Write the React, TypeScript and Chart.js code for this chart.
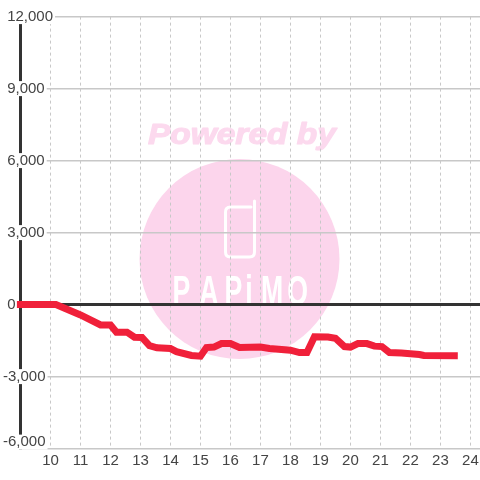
import React, { useEffect, useRef } from "react";
import { Chart, registerables } from "chart.js";

Chart.register(...registerables);

const hours = [8.88, 10.18, 11, 11.67, 12, 12.2, 12.55, 12.8, 13.05, 13.3, 13.55, 14, 14.2, 14.7, 15, 15.2, 15.45, 15.7, 16, 16.3, 17, 17.3, 18, 18.3, 18.55, 18.8, 19.25, 19.5, 19.8, 20, 20.25, 20.55, 20.8, 21.05, 21.3, 21.7, 22.3, 22.45, 23.58];
const values = [0, 0, -430, -850, -850, -1150, -1150, -1360, -1370, -1710, -1800, -1830, -1960, -2120, -2150, -1790, -1770, -1620, -1620, -1790, -1770, -1830, -1900, -2000, -2000, -1340, -1350, -1400, -1750, -1770, -1625, -1625, -1730, -1750, -2000, -2020, -2080, -2120, -2130];
const logoLetters = ["P", "A", "P", "i", "M", "O"];
const logoCenters = [181.5, 209, 233.5, 249, 272, 297.5];
const watermarkTitle = "Powered by";

const PINK = "#fcd5ec";

const watermark = {
  id: "watermark",
  beforeDraw(chart: any) {
    // the lowest tick label sits just above its gridline
    const items = chart.scales.y.getLabelItems();
    const last = items.find((it: any) => it.label === "-6,000");
    if (last && !last.shifted) {
      last.options.translation[1] -= 6.5;
      last.shifted = true;
    }
    const ctx = chart.ctx;
    ctx.save();
    ctx.fillStyle = "#ffffff";
    ctx.fillRect(0, 0, 480, 480);
    // disc
    ctx.fillStyle = PINK;
    ctx.beginPath();
    ctx.arc(239.5, 259, 100, 0, Math.PI * 2);
    ctx.fill();
    // caption
    ctx.save();
    ctx.fillStyle = "#fcd9ee";
    ctx.strokeStyle = "#fcd9ee";
    ctx.lineWidth = 1.2;
    ctx.lineJoin = "round";
    ctx.font = 'italic bold 30px "Liberation Sans"';
    ctx.textAlign = "left";
    ctx.textBaseline = "alphabetic";
    ctx.translate(148, 144);
    ctx.scale(1.115, 1);
    ctx.fillText(watermarkTitle, 0, 0);
    ctx.strokeText(watermarkTitle, 0, 0);
    ctx.restore();
    // handset
    ctx.strokeStyle = "#ffffff";
    ctx.lineWidth = 3;
    ctx.lineCap = "round";
    ctx.lineJoin = "round";
    ctx.beginPath();
    ctx.moveTo(254.5, 201);
    ctx.lineTo(254.5, 252);
    ctx.quadraticCurveTo(254.5, 257, 249.5, 257);
    ctx.lineTo(230.5, 257);
    ctx.quadraticCurveTo(225.5, 257, 225.5, 252);
    ctx.lineTo(225.5, 212);
    ctx.quadraticCurveTo(225.5, 207, 230.5, 207);
    ctx.lineTo(251, 207);
    ctx.stroke();
    // logotype
    ctx.fillStyle = "#ffffff";
    ctx.font = 'bold 43px "Liberation Sans"';
    ctx.textAlign = "center";
    ctx.textBaseline = "alphabetic";
    logoLetters.forEach((letter, i) => {
      ctx.save();
      ctx.translate(logoCenters[i], 305);
      ctx.scale(0.62, 1);
      ctx.fillText(letter, 0, 0);
      ctx.restore();
    });
    ctx.restore();
  },
};

export default function App() {
  const ref = useRef<HTMLCanvasElement>(null);
  useEffect(() => {
    const chart = new Chart(ref.current!, {
      type: "line",
      data: {
        datasets: [
          {
            data: hours.map((h, i) => ({ x: h, y: values[i] })),
            borderColor: "#f0203a",
            borderWidth: 7,
            pointRadius: 0,
            tension: 0,
            fill: false,
            clip: false,
          } as any,
        ],
      },
      options: {
        responsive: false,
        animation: false,
        devicePixelRatio: 1,
        layout: { padding: { left: 3, top: 16.6, right: 0, bottom: 0 } },
        plugins: { legend: { display: false }, tooltip: { enabled: false } },
        scales: {
          x: {
            type: "linear",
            min: 9,
            max: 24.32,
            afterFit(scale: any) {
              scale.height = 31.4;
              scale.paddingLeft = 0;
              scale.paddingRight = 0;
            },
            border: { display: false, dash: [3, 3] },
            grid: { color: "#c8c8c8", lineWidth: 1, drawTicks: false },
            ticks: {
              stepSize: 1,
              includeBounds: false,
              autoSkip: false,
              maxRotation: 0,
              padding: 5,
              color: "#444444",
              font: { family: '"Liberation Sans"', size: 15, lineHeight: 1 },
              callback: (v: any) => (v >= 10 ? String(v) : null),
            },
          },
          y: {
            type: "linear",
            min: -6000,
            max: 12000,
            afterFit(scale: any) {
              scale.width = 17.5;
              scale.paddingTop = 0;
              scale.paddingBottom = 0;
            },
            border: { display: true, color: "#333333", width: 3 },
            grid: {
              drawTicks: false,
              color: (c: any) => (c.tick.value === 0 ? "#333333" : "#c8c8c8"),
              lineWidth: (c: any) => (c.tick.value === 0 ? 3 : 1.4),
            },
            ticks: {
              stepSize: 1000,
              autoSkip: false,
              mirror: true,
              crossAlign: "near",
              padding: -17.5,
              color: "#444444",
              font: { family: '"Liberation Sans"', size: 15, lineHeight: 1 },
              showLabelBackdrop: (c: any) => c.tick.value % 3000 === 0,
              backdropColor: "#ffffff",
              backdropPadding: { left: 0, right: 2, top: 0, bottom: 0 },
              callback: (v: any) => {
                if (v % 3000 !== 0) return null;
                const s = Math.abs(v).toLocaleString("en-US");
                return v < 0 ? "-" + s : " " + s;
              },
            },
          },
        },
      } as any,
      plugins: [watermark],
    });
    return () => chart.destroy();
  }, []);
  return (
    <div style={{ position: "fixed", left: 0, top: 0, width: 480, height: 480 }}>
      <canvas ref={ref} width={480} height={480} style={{ display: "block" }} />
    </div>
  );
}
